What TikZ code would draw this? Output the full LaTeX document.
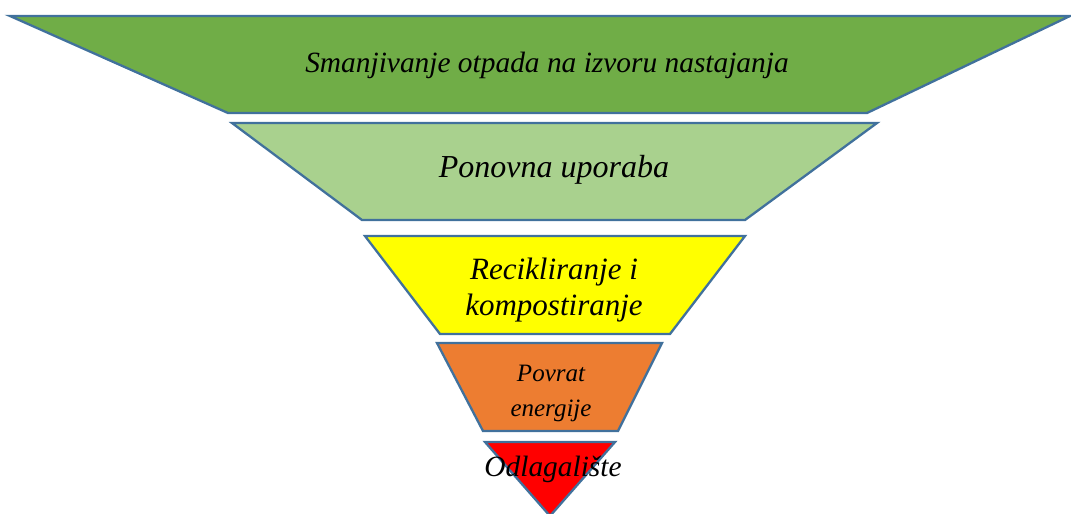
\documentclass[tikz,border=0pt]{standalone}
\usepackage{fontspec}
\setmainfont{Liberation Serif}
\begin{document}
\begin{tikzpicture}[x=1pt,y=-1pt,
  layer/.style={draw=edge,line width=2.3pt,line join=miter},
  lbl/.style={font=\itshape,align=center,inner sep=0pt}]
\definecolor{edge}{HTML}{41719C}
\definecolor{g1}{HTML}{70AD47}
\definecolor{g2}{HTML}{A9D18E}
\definecolor{y3}{HTML}{FFFF00}
\definecolor{o4}{HTML}{ED7D31}
\definecolor{r5}{HTML}{FF0000}
\useasboundingbox (0,0) rectangle (1071,514);
\path[layer,fill=g1] (10,16) -- (1070,16) -- (867,113) -- (228,113) -- cycle;
\path[layer,fill=g2] (232,123) -- (877,123) -- (745,220) -- (362,220) -- cycle;
\path[layer,fill=y3] (365,236) -- (745,236) -- (670,334) -- (440,334) -- cycle;
\path[layer,fill=o4] (437,343) -- (662,343) -- (618,431) -- (483,431) -- cycle;
\path[layer,fill=r5] (485,442) -- (615,442) -- (550,516) -- cycle;
\node[lbl,font=\itshape\fontsize{29.4}{34}\selectfont] (t1) at (547,65) {Smanjivanje otpada na izvoru nastajanja};
\node[lbl,font=\itshape\fontsize{32}{37}\selectfont] (t2) at (554,170) {Ponovna uporaba};
\node[lbl,font=\itshape\fontsize{31}{36}\selectfont] (t3) at (554,290) {Recikliranje i\\kompostiranje};
\node[lbl,font=\itshape\fontsize{25}{35}\selectfont] (t4) at (551,393) {Povrat\\energije};
\node[lbl,font=\itshape\fontsize{29.4}{34}\selectfont] (t5) at (553,469) {Odlagalište};
\end{tikzpicture}
\end{document}
